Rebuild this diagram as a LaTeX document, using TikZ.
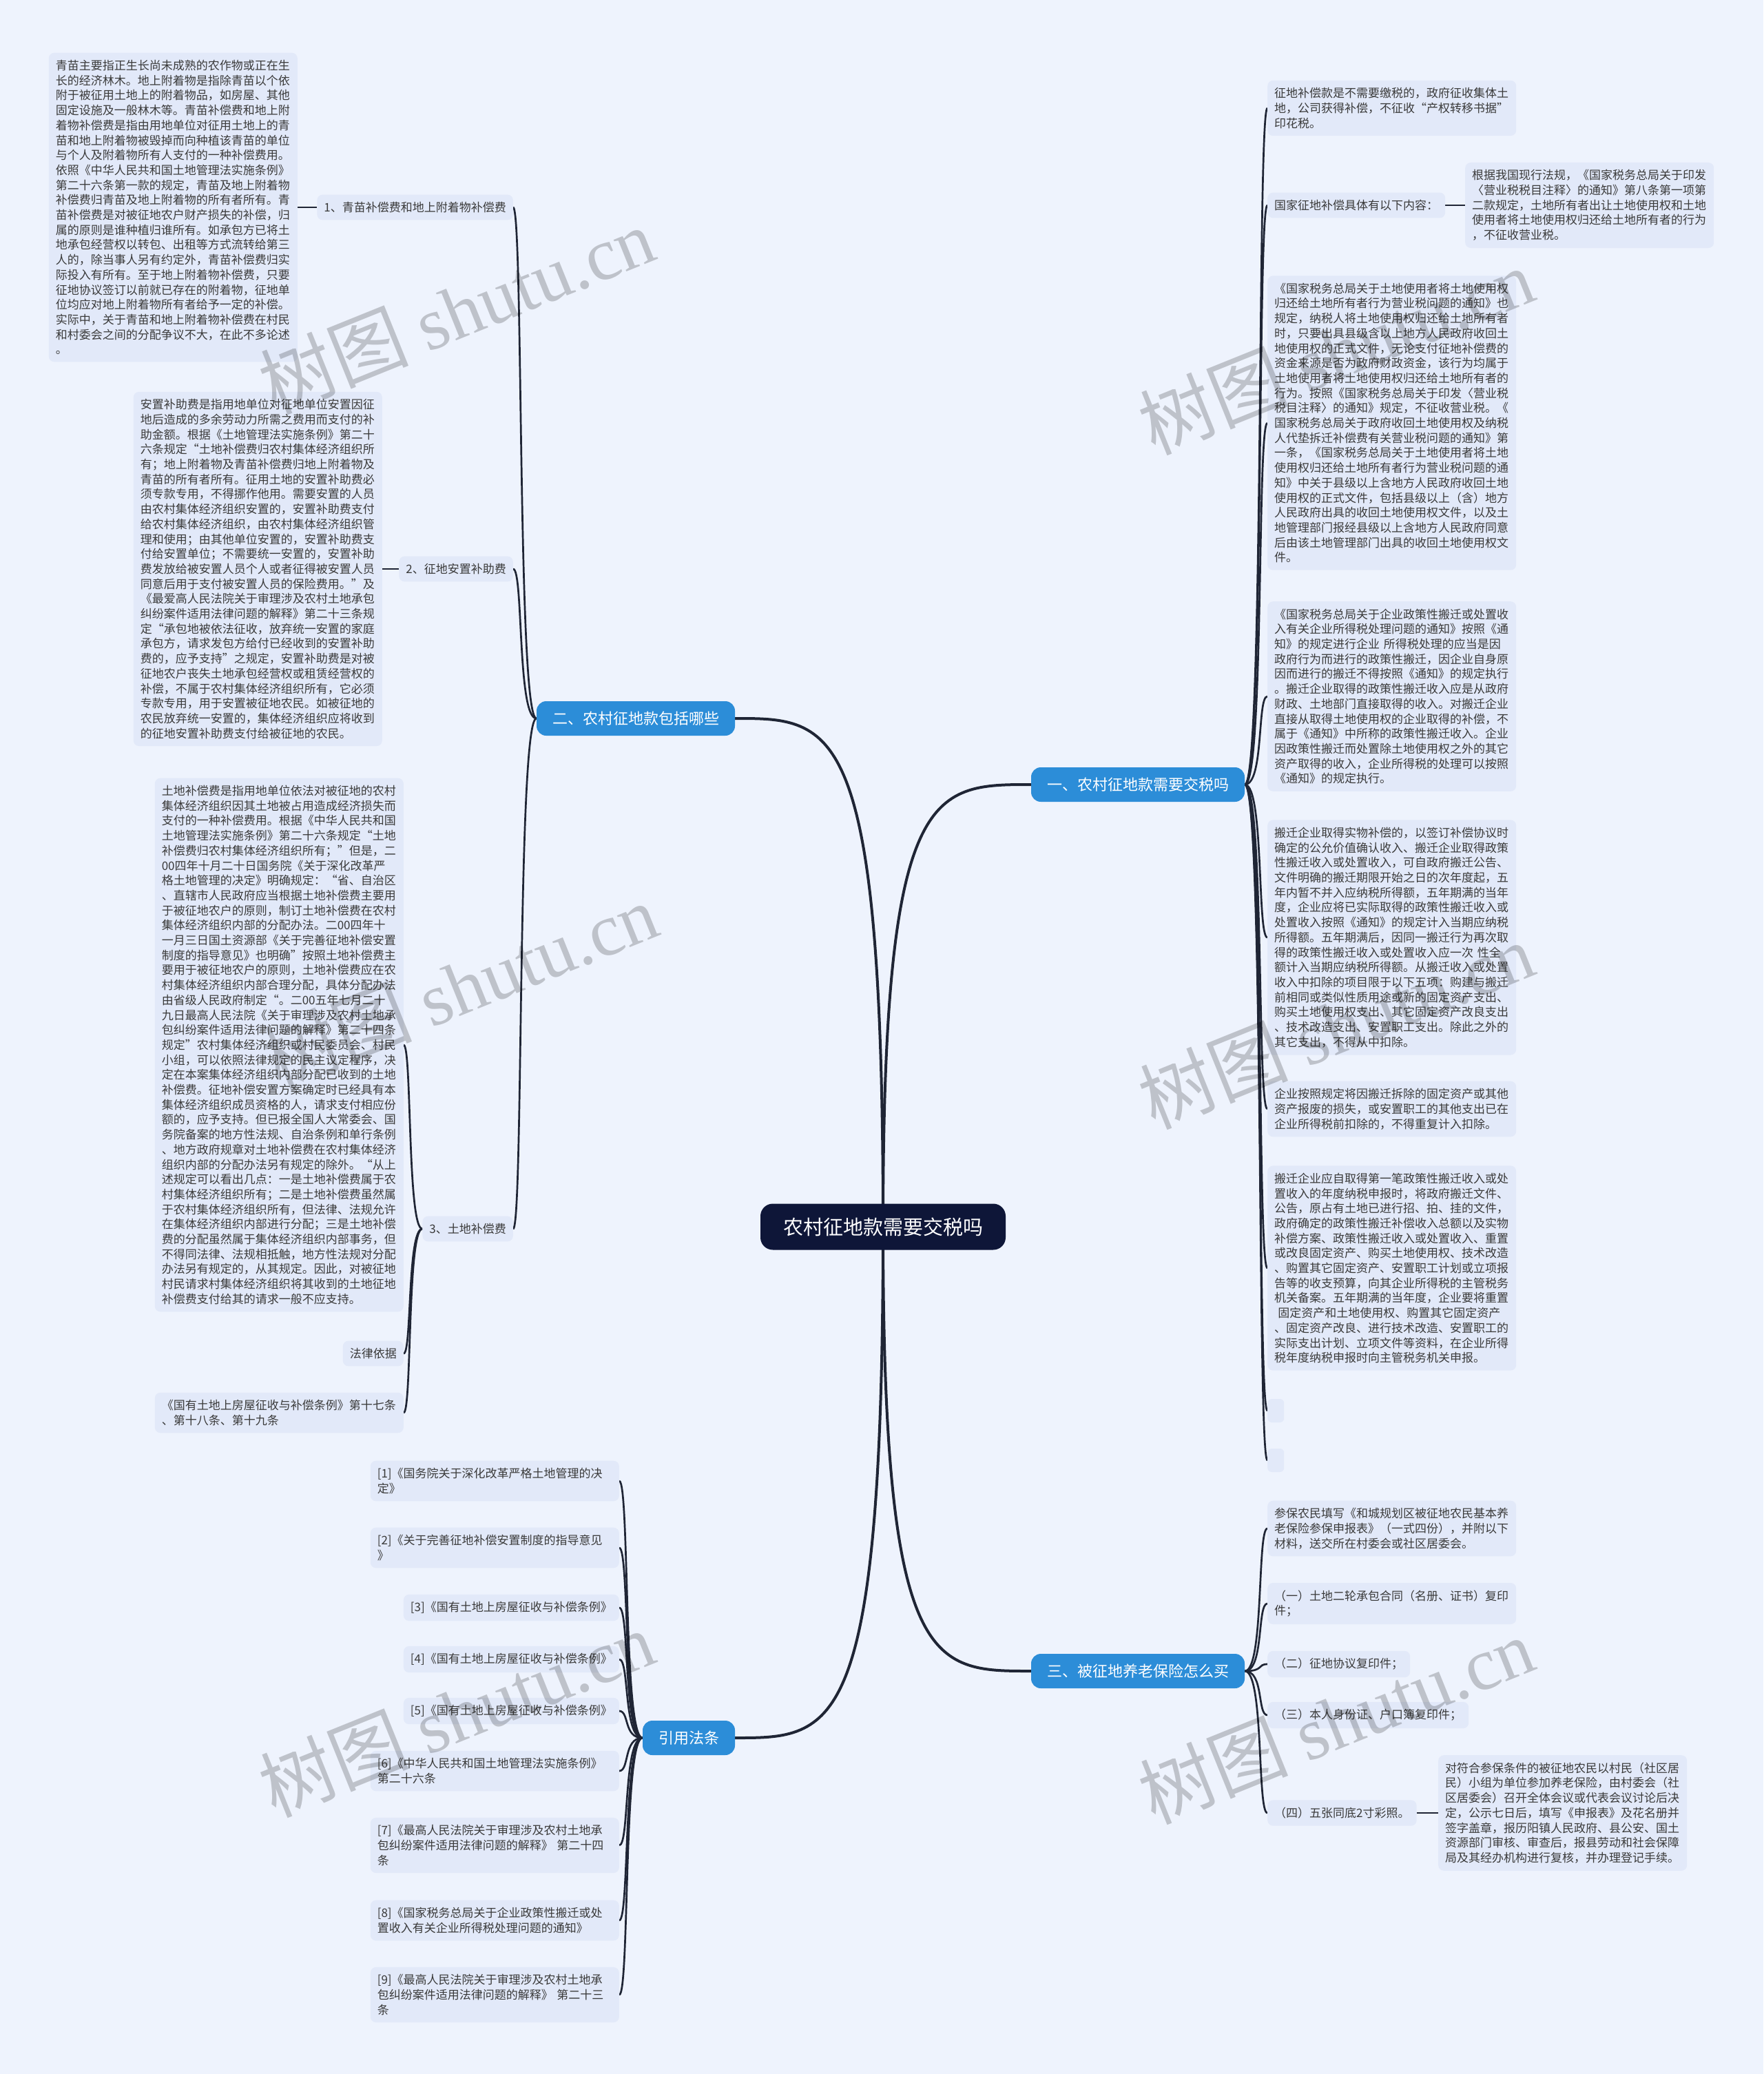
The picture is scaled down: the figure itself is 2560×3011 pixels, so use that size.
\documentclass[tikz,border=0pt]{standalone}
\usepackage{fontspec}
\setmainfont{Noto Sans CJK SC}
\newfontfamily\wmserif{Liberation Serif}
\definecolor{bgc}{HTML}{EEF3FD}
\definecolor{boxc}{HTML}{E2E9F9}
\definecolor{txtc}{HTML}{3A3A3A}
\definecolor{linec}{HTML}{1F2535}
\definecolor{lvlc}{HTML}{2C8DD8}
\definecolor{rootc}{HTML}{0E1638}
\pgfdeclarelayer{bglayer}
\pgfdeclarelayer{linelayer}
\pgfdeclarelayer{toplayer}
\pgfsetlayers{bglayer,linelayer,main,toplayer}
\begin{document}
\begin{tikzpicture}[x=1pt,y=-1pt,
  txt/.style={fill=boxc, rounded corners=8pt, text=txtc, font=\fontsize{17pt}{21.7pt}\selectfont, inner xsep=10pt, inner ysep=10.5pt, align=left},
  wide/.style={txt, text width=341pt},
  lvl/.style={fill=lvlc, text=white, rounded corners=14pt, font=\fontsize{22pt}{26pt}\selectfont, inner xsep=23pt, inner ysep=0pt, minimum height=50pt},
  rootbox/.style={fill=rootc, text=white, rounded corners=18pt, font=\fontsize{29pt}{34pt}\selectfont, inner xsep=33pt, inner ysep=0pt, minimum height=67pt},
  conn/.style={draw=linec, line width=2.7pt},
  mainconn/.style={draw=linec, line width=4pt},
  wm/.style={text=black, text opacity=0.2, rotate=22, font=\fontsize{108pt}{110pt}\selectfont}
]
\begin{pgfonlayer}{bglayer}
\fill[bgc] (0,0) rectangle (2560,3011);
\end{pgfonlayer}
\useasboundingbox (0,0) rectangle (2560,3011);

% root and level 1
\node[rootbox] (root) at (1282,1781) {农村征地款需要交税吗};
\node[lvl] (one) at (1652,1139) {一、农村征地款需要交税吗};
\node[lvl] (two) at (923,1043) {二、农村征地款包括哪些};
\node[lvl] (three) at (1652,2426) {三、被征地养老保险怎么买};
\node[lvl] (refs) at (1000,2523) {引用法条};

% ---------- branch two (left)
\node[txt, anchor=east] (a1) at (745,301) {1、青苗补偿费和地上附着物补偿费};
\node[txt, anchor=east] (a2) at (745,826) {2、征地安置补助费};
\node[txt, anchor=east] (a3) at (745,1784) {3、土地补偿费};

\node[wide, anchor=east] (b1) at (432,301) {青苗主要指正生长尚未成熟的农作物或正在生\\
长的经济林木。地上附着物是指除青苗以个依\\
附于被征用土地上的附着物品，如房屋、其他\\
固定设施及一般林木等。青苗补偿费和地上附\\
着物补偿费是指由用地单位对征用土地上的青\\
苗和地上附着物被毁掉而向种植该青苗的单位\\
与个人及附着物所有人支付的一种补偿费用。\\
依照《中华人民共和国土地管理法实施条例》\\
第二十六条第一款的规定，青苗及地上附着物\\
补偿费归青苗及地上附着物的所有者所有。青\\
苗补偿费是对被征地农户财产损失的补偿，归\\
属的原则是谁种植归谁所有。如承包方已将土\\
地承包经营权以转包、出租等方式流转给第三\\
人的，除当事人另有约定外，青苗补偿费归实\\
际投入有所有。至于地上附着物补偿费，只要\\
征地协议签订以前就已存在的附着物，征地单\\
位均应对地上附着物所有者给予一定的补偿。\\
实际中，关于青苗和地上附着物补偿费在村民\\
和村委会之间的分配争议不大，在此不多论述\\
。};

\node[wide, anchor=east] (b2) at (555,826) {安置补助费是指用地单位对征地单位安置因征\\
地后造成的多余劳动力所需之费用而支付的补\\
助金额。根据《土地管理法实施条例》第二十\\
六条规定“土地补偿费归农村集体经济组织所\\
有；地上附着物及青苗补偿费归地上附着物及\\
青苗的所有者所有。征用土地的安置补助费必\\
须专款专用，不得挪作他用。需要安置的人员\\
由农村集体经济组织安置的，安置补助费支付\\
给农村集体经济组织，由农村集体经济组织管\\
理和使用；由其他单位安置的，安置补助费支\\
付给安置单位；不需要统一安置的，安置补助\\
费发放给被安置人员个人或者征得被安置人员\\
同意后用于支付被安置人员的保险费用。”及\\
《最爱高人民法院关于审理涉及农村土地承包\\
纠纷案件适用法律问题的解释》第二十三条规\\
定“承包地被依法征收，放弃统一安置的家庭\\
承包方，请求发包方给付已经收到的安置补助\\
费的，应予支持”之规定，安置补助费是对被\\
征地农户丧失土地承包经营权或租赁经营权的\\
补偿，不属于农村集体经济组织所有，它必须\\
专款专用，用于安置被征地农民。如被征地的\\
农民放弃统一安置的，集体经济组织应将收到\\
的征地安置补助费支付给被征地的农民。};

\node[wide, anchor=east] (b3) at (586,1517) {土地补偿费是指用地单位依法对被征地的农村\\
集体经济组织因其土地被占用造成经济损失而\\
支付的一种补偿费用。根据《中华人民共和国\\
土地管理法实施条例》第二十六条规定“土地\\
补偿费归农村集体经济组织所有；”但是，二\\
00四年十月二十日国务院《关于深化改革严\\
格土地管理的决定》明确规定：“省、自治区\\
、直辖市人民政府应当根据土地补偿费主要用\\
于被征地农户的原则，制订土地补偿费在农村\\
集体经济组织内部的分配办法。二00四年十\\
一月三日国土资源部《关于完善征地补偿安置\\
制度的指导意见》也明确”按照土地补偿费主\\
要用于被征地农户的原则，土地补偿费应在农\\
村集体经济组织内部合理分配，具体分配办法\\
由省级人民政府制定“。二00五年七月二十\\
九日最高人民法院《关于审理涉及农村土地承\\
包纠纷案件适用法律问题的解释》第二十四条\\
规定”农村集体经济组织或村民委员会、村民\\
小组，可以依照法律规定的民主议定程序，决\\
定在本案集体经济组织内部分配已收到的土地\\
补偿费。征地补偿安置方案确定时已经具有本\\
集体经济组织成员资格的人，请求支付相应份\\
额的，应予支持。但已报全国人大常委会、国\\
务院备案的地方性法规、自治条例和单行条例\\
、地方政府规章对土地补偿费在农村集体经济\\
组织内部的分配办法另有规定的除外。“从上\\
述规定可以看出几点：一是土地补偿费属于农\\
村集体经济组织所有；二是土地补偿费虽然属\\
于农村集体经济组织所有，但法律、法规允许\\
在集体经济组织内部进行分配；三是土地补偿\\
费的分配虽然属于集体经济组织内部事务，但\\
不得同法律、法规相抵触，地方性法规对分配\\
办法另有规定的，从其规定。因此，对被征地\\
村民请求村集体经济组织将其收到的土地征地\\
补偿费支付给其的请求一般不应支持。};
\node[txt, anchor=east] (b4) at (586,1965) {法律依据};
\node[wide, anchor=east] (b5) at (586,2051) {《国有土地上房屋征收与补偿条例》第十七条\\
、第十八条、第十九条};

% ---------- references (left bottom)
\node[wide, anchor=east] (r1) at (899,2150) {[1]《国务院关于深化改革严格土地管理的决\\定》};
\node[wide, anchor=east] (r2) at (899,2247) {[2]《关于完善征地补偿安置制度的指导意见\\》};
\node[txt, anchor=east] (r3) at (899,2334) {[3]《国有土地上房屋征收与补偿条例》};
\node[txt, anchor=east] (r4) at (899,2409) {[4]《国有土地上房屋征收与补偿条例》};
\node[txt, anchor=east] (r5) at (899,2484) {[5]《国有土地上房屋征收与补偿条例》};
\node[wide, anchor=east] (r6) at (899,2571) {[6]《中华人民共和国土地管理法实施条例》\\第二十六条};
\node[wide, anchor=east] (r7) at (899,2679) {[7]《最高人民法院关于审理涉及农村土地承\\包纠纷案件适用法律问题的解释》 第二十四\\条};
\node[wide, anchor=east] (r8) at (899,2788) {[8]《国家税务总局关于企业政策性搬迁或处\\置收入有关企业所得税处理问题的通知》};
\node[wide, anchor=east] (r9) at (899,2896) {[9]《最高人民法院关于审理涉及农村土地承\\包纠纷案件适用法律问题的解释》 第二十三\\条};

% ---------- branch one (right)
\node[wide, anchor=west] (c1) at (1840,157) {征地补偿款是不需要缴税的，政府征收集体土\\
地，公司获得补偿，不征收“产权转移书据”\\
印花税。};
\node[txt, anchor=west] (c2) at (1840,298) {国家征地补偿具体有以下内容：};
\node[wide, anchor=west] (c2a) at (2127,298) {根据我国现行法规，《国家税务总局关于印发\\
〈营业税税目注释〉的通知》第八条第一项第\\
二款规定，土地所有者出让土地使用权和土地\\
使用者将土地使用权归还给土地所有者的行为\\
，不征收营业税。};
\node[wide, anchor=west] (c3) at (1840,614) {《国家税务总局关于土地使用者将土地使用权\\
归还给土地所有者行为营业税问题的通知》也\\
规定，纳税人将土地使用权归还给土地所有者\\
时，只要出具县级含以上地方人民政府收回土\\
地使用权的正式文件，无论支付征地补偿费的\\
资金来源是否为政府财政资金，该行为均属于\\
土地使用者将土地使用权归还给土地所有者的\\
行为。按照《国家税务总局关于印发〈营业税\\
税目注释〉的通知》规定，不征收营业税。《\\
国家税务总局关于政府收回土地使用权及纳税\\
人代垫拆迁补偿费有关营业税问题的通知》第\\
一条，《国家税务总局关于土地使用者将土地\\
使用权归还给土地所有者行为营业税问题的通\\
知》中关于县级以上含地方人民政府收回土地\\
使用权的正式文件，包括县级以上（含）地方\\
人民政府出具的收回土地使用权文件，以及土\\
地管理部门报经县级以上含地方人民政府同意\\
后由该土地管理部门出具的收回土地使用权文\\
件。};
\node[wide, anchor=west] (c4) at (1840,1011) {《国家税务总局关于企业政策性搬迁或处置收\\
入有关企业所得税处理问题的通知》按照《通\\
知》的规定进行企业 所得税处理的应当是因\\
政府行为而进行的政策性搬迁，因企业自身原\\
因而进行的搬迁不得按照《通知》的规定执行\\
。搬迁企业取得的政策性搬迁收入应是从政府\\
财政、土地部门直接取得的收入。对搬迁企业\\
直接从取得土地使用权的企业取得的补偿，不\\
属于《通知》中所称的政策性搬迁收入。企业\\
因政策性搬迁而处置除土地使用权之外的其它\\
资产取得的收入，企业所得税的处理可以按照\\
《通知》的规定执行。};
\node[wide, anchor=west] (c5) at (1840,1361) {搬迁企业取得实物补偿的，以签订补偿协议时\\
确定的公允价值确认收入、搬迁企业取得政策\\
性搬迁收入或处置收入，可自政府搬迁公告、\\
文件明确的搬迁期限开始之日的次年度起，五\\
年内暂不并入应纳税所得额，五年期满的当年\\
度，企业应将已实际取得的政策性搬迁收入或\\
处置收入按照《通知》的规定计入当期应纳税\\
所得额。五年期满后，因同一搬迁行为再次取\\
得的政策性搬迁收入或处置收入应一次 性全\\
额计入当期应纳税所得额。从搬迁收入或处置\\
收入中扣除的项目限于以下五项：购建与搬迁\\
前相同或类似性质用途或新的固定资产支出、\\
购买土地使用权支出、其它固定资产改良支出\\
、技术改造支出、安置职工支出。除此之外的\\
其它支出，不得从中扣除。};
\node[wide, anchor=west] (c6) at (1840,1610) {企业按照规定将因搬迁拆除的固定资产或其他\\
资产报废的损失，或安置职工的其他支出已在\\
企业所得税前扣除的，不得重复计入扣除。};
\node[wide, anchor=west] (c7) at (1840,1841) {搬迁企业应自取得第一笔政策性搬迁收入或处\\
置收入的年度纳税申报时，将政府搬迁文件、\\
公告，原占有土地已进行招、拍、挂的文件，\\
政府确定的政策性搬迁补偿收入总额以及实物\\
补偿方案、政策性搬迁收入或处置收入、重置\\
或改良固定资产、购买土地使用权、技术改造\\
、购置其它固定资产、安置职工计划或立项报\\
告等的收支预算，向其企业所得税的主管税务\\
机关备案。五年期满的当年度，企业要将重置\\
\hspace*{0.3em}固定资产和土地使用权、购置其它固定资产\\
、固定资产改良、进行技术改造、安置职工的\\
实际支出计划、立项文件等资料，在企业所得\\
税年度纳税申报时向主管税务机关申报。};
\node[fill=boxc, rounded corners=6pt, minimum width=24pt, minimum height=34pt, inner sep=0pt, anchor=west] (e1) at (1840,2048) {};
\node[fill=boxc, rounded corners=6pt, minimum width=24pt, minimum height=34pt, inner sep=0pt, anchor=west] (e2) at (1840,2120) {};

% ---------- branch three (right bottom)
\node[wide, anchor=west] (d1) at (1840,2219) {参保农民填写《和城规划区被征地农民基本养\\
老保险参保申报表》（一式四份），并附以下\\
材料，送交所在村委会或社区居委会。};
\node[wide, anchor=west] (d2) at (1840,2328) {（一）土地二轮承包合同（名册、证书）复印\\件；};
\node[txt, anchor=west] (d3) at (1840,2416) {（二）征地协议复印件；};
\node[txt, anchor=west] (d4) at (1840,2490) {（三）本人身份证、户口簿复印件；};
\node[txt, anchor=west] (d5) at (1840,2632) {（四）五张同底2寸彩照。};
\node[wide, anchor=west] (d5a) at (2088,2632) {对符合参保条件的被征地农民以村民（社区居\\
民）小组为单位参加养老保险，由村委会（社\\
区居委会）召开全体会议或代表会议讨论后决\\
定，公示七日后，填写《申报表》及花名册并\\
签字盖章，报历阳镇人民政府、县公安、国土\\
资源部门审核、审查后，报县劳动和社会保障\\
局及其经办机构进行复核，并办理登记手续。};

% ---------- connectors
\begin{pgfonlayer}{linelayer}
\draw[mainconn] (root.center) .. controls (1282,1139) and (1352,1139) .. (one.west);
\draw[mainconn] (root.center) .. controls (1282,1043) and (1212,1043) .. (two.east);
\draw[mainconn] (root.center) .. controls (1282,2426) and (1352,2426) .. (three.west);
\draw[mainconn] (root.center) .. controls (1282,2523) and (1212,2523) .. (refs.east);

\foreach \t in {c1,c2,c3,c4,c5,c6,c7,e1,e2}
  \draw[conn] (one.east) .. controls +(28,0) and +(-15,0) .. (\t.west);
\foreach \t in {d1,d2,d3,d4,d5}
  \draw[conn] (three.east) .. controls +(28,0) and +(-15,0) .. (\t.west);
\foreach \t in {a1,a2,a3}
  \draw[conn] (two.west) .. controls +(-28,0) and +(15,0) .. (\t.east);
\foreach \t in {b3,b4,b5}
  \draw[conn] (a3.west) .. controls +(-22,0) and +(12,0) .. (\t.east);
\foreach \t in {r1,r2,r3,r4,r5,r6,r7,r8,r9}
  \draw[conn] (refs.west) .. controls +(-28,0) and +(15,0) .. (\t.east);
\draw[conn] (a1.west) -- (b1.east);
\draw[conn] (a2.west) -- (b2.east);
\draw[conn] (c2.east) -- (c2a.west);
\draw[conn] (d5.east) -- (d5a.west);
\end{pgfonlayer}

% ---------- watermarks
\begin{pgfonlayer}{toplayer}
\node[wm] (w1) at (663,450) {树图 {\wmserif shutu.cn}};
\node[wm] (w2) at (668,1431) {树图 {\wmserif shutu.cn}};
\node[wm] (w3) at (663,2487) {树图 {\wmserif shutu.cn}};
\node[wm] (w4) at (1940,509) {树图 {\wmserif shutu.cn}};
\node[wm] (w5) at (1940,1488) {树图 {\wmserif shutu.cn}};
\node[wm] (w6) at (1940,2497) {树图 {\wmserif shutu.cn}};
\end{pgfonlayer}
\end{tikzpicture}
\end{document}
